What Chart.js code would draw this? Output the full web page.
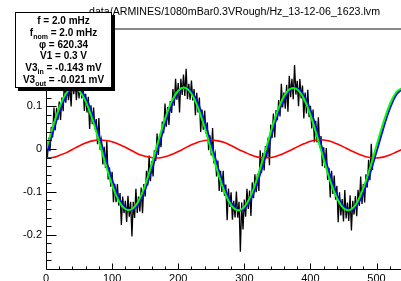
<!DOCTYPE html>
<html>
<head>
<meta charset="utf-8">
<script src="https://cdn.jsdelivr.net/npm/chart.js@4.4.1/dist/chart.umd.min.js"></script>
<style>
  html, body { margin: 0; padding: 0; background: #fff; overflow: hidden; }
  #page { position: relative; width: 401px; height: 281px; overflow: hidden; }
  #plot { position: absolute; left: 0; top: 0; }
  #title {
    position: absolute; left: 89px; top: 5px; white-space: nowrap; color: #000;
    font: 10.65px "Liberation Sans", Arial, sans-serif; line-height: 13px;
  }
  #stats {
    position: absolute; left: 15px; top: 12px; width: 97px; height: 76px;
    box-sizing: border-box; border: 1px solid #000; box-shadow: 3px 3px 0 #000;
    background: #fff; color: #000; text-align: center;
    font: bold 10px "Liberation Sans", Arial, sans-serif; line-height: 11.8px; padding-top: 2px;
  }
  #stats sub { font-size: 7px; line-height: 0; vertical-align: -3px; }
</style>
</head>
<body>
<div id="page">
  <canvas id="plot" width="401" height="292"></canvas>
  <div id="title">data/ARMINES/1080mBar0.3VRough/Hz_13-12-06_1623.lvm</div>
  <div id="stats">
    <div>f = 2.0 mHz</div>
    <div>f<sub>nom</sub> = 2.0 mHz</div>
    <div>&phi; = 620.34</div>
    <div>V1 = 0.3 V</div>
    <div>V3<sub>in</sub> = -0.143 mV</div>
    <div>V3<sub>out</sub> = -0.021 mV</div>
  </div>
</div>
<script>
// axis ranges
const xMin = 0, xMax = 537;
const yMin = -0.28, yMax = 0.28;

// raw signal, one sample every 2 units starting at 0
const rawStep = 2;
const rawSignal = [
  0.007,-0.022,0.026,-0.005,0.052,0.027,0.097,0.044,0.096,0.068,
  0.111,0.068,0.120,0.088,0.171,0.108,0.153,0.114,0.149,0.099,
  0.168,0.128,0.162,0.114,0.158,0.118,0.174,0.118,0.152,0.089,
  0.129,0.085,0.122,0.047,0.102,0.058,0.097,0.046,0.070,0.011,
  0.072,-0.002,0.019,-0.036,0.005,-0.044,0.018,-0.071,-0.043,-0.088,
  -0.053,-0.124,-0.081,-0.124,-0.082,-0.132,-0.103,-0.177,-0.111,-0.150,
  -0.121,-0.170,-0.109,-0.158,-0.123,-0.204,-0.123,-0.161,-0.093,-0.149,
  -0.111,-0.146,-0.090,-0.150,-0.082,-0.111,-0.051,-0.085,-0.015,-0.075,
  -0.028,-0.064,-0.003,-0.028,0.036,-0.014,0.034,0.004,0.064,0.037,
  0.106,0.052,0.098,0.056,0.112,0.084,0.140,0.101,0.164,0.115,
  0.154,0.085,0.164,0.126,0.174,0.124,0.187,0.116,0.152,0.115,
  0.160,0.113,0.140,0.079,0.131,0.085,0.120,0.040,0.092,0.045,
  0.090,0.036,0.062,-0.003,0.032,-0.015,0.049,-0.034,-0.013,-0.064,
  -0.027,-0.098,-0.051,-0.100,-0.051,-0.109,-0.083,-0.166,-0.092,-0.135,
  -0.101,-0.165,-0.121,-0.160,-0.099,-0.160,-0.123,-0.240,-0.125,-0.188,
  -0.118,-0.158,-0.093,-0.140,-0.097,-0.156,-0.078,-0.115,-0.059,-0.101,
  -0.058,-0.098,-0.003,-0.056,-0.009,-0.050,0.007,-0.021,0.027,-0.038,
  0.057,0.026,0.083,0.027,0.091,0.067,0.114,0.076,0.152,0.097,
  0.132,0.094,0.150,0.087,0.171,0.121,0.164,0.116,0.196,0.127,
  0.159,0.100,0.163,0.118,0.148,0.071,0.132,0.083,0.138,0.074,
  0.101,0.048,0.092,0.016,0.066,0.015,0.074,0.003,0.030,-0.040,
  0.004,-0.044,0.002,-0.072,-0.044,-0.113,-0.051,-0.105,-0.062,-0.118,
  -0.086,-0.171,-0.101,-0.155,-0.117,-0.169,-0.096,-0.162,-0.125,-0.168,
  -0.108,-0.190,-0.121,-0.153,-0.110,-0.157,-0.095,-0.133,-0.064,-0.128,
  -0.082,-0.125,-0.059,-0.090,-0.025,-0.073,0.012,-0.049
];

// fitted curves, sampled every 10 units
const fitTimes = [0,10,20,30,40,50,60,70,80,90,100,110,120,130,140,150,160,170,180,190,
  200,210,220,230,240,250,260,270,280,290,300,310,320,330,340,350,360,370,380,390,
  400,410,420,430,440,450,460,470,480,490,500,510,520,530,540];
const fitIn = [
  -0.016,0.037,0.086,0.122,0.141,0.140,0.119,0.081,0.032,-0.022,
  -0.072,-0.113,-0.137,-0.142,-0.127,-0.094,-0.048,0.005,0.058,0.102,
  0.132,0.143,0.134,0.106,0.063,0.011,-0.043,-0.090,-0.125,-0.142,
  -0.139,-0.116,-0.077,-0.027,0.027,0.077,0.116,0.139,0.142,0.125,
  0.090,0.043,-0.011,-0.063,-0.106,-0.134,-0.143,-0.132,-0.102,-0.058,
  -0.006,0.047,0.094,0.127,0.142
];
const fitTotal = [
  -0.003,0.050,0.096,0.129,0.143,0.136,0.111,0.070,0.019,-0.035,
  -0.084,-0.121,-0.140,-0.140,-0.121,-0.084,-0.035,0.019,0.070,0.111,
  0.136,0.143,0.129,0.096,0.050,-0.003,-0.055,-0.100,-0.131,-0.143,
  -0.135,-0.108,-0.065,-0.014,0.040,0.088,0.123,0.141,0.139,0.118,
  0.079,0.030,-0.024,-0.075,-0.114,-0.138,-0.142,-0.126,-0.091,-0.045,
  0.008,0.060,0.104,0.133,0.143
];
const fitOut = [
  -0.021,-0.020,-0.015,-0.009,-0.001,0.007,0.014,0.019,0.021,0.020,
  0.017,0.011,0.004,-0.004,-0.012,-0.017,-0.020,-0.021,-0.018,-0.013,
  -0.006,0.002,0.010,0.016,0.020,0.021,0.019,0.015,0.008,0.000,
  -0.007,-0.014,-0.019,-0.021,-0.020,-0.016,-0.010,-0.003,0.005,0.012,
  0.018,0.021,0.021,0.018,0.012,0.005,-0.003,-0.010,-0.016,-0.020,
  -0.021,-0.019,-0.014,-0.007,0.000
];

const toPoints = (xs, ys) => ys.map((v, i) => ({ x: xs[i], y: v }));
const rawPoints = rawSignal.map((v, i) => ({ x: i * rawStep, y: v }));

const labelFont = { family: '"Liberation Sans", Arial, sans-serif', size: 11 };

// ROOT style frame: axis lines, ticks pointing inside
const frameAxes = {
  id: 'frameAxes',
  afterDraw(chart) {
    const { ctx, chartArea: a, scales: { x, y } } = chart;
    ctx.save();
    ctx.strokeStyle = '#8a8a8a';
    ctx.lineWidth = 2;
    ctx.beginPath();
    ctx.moveTo(a.left, a.top);
    ctx.lineTo(a.right, a.top);
    ctx.stroke();

    ctx.strokeStyle = '#000';
    ctx.lineWidth = 1;
    ctx.beginPath();
    const lx = Math.round(a.left) + 0.5;
    const by = Math.round(a.bottom) + 0.5;
    ctx.moveTo(lx, a.top);
    ctx.lineTo(lx, by);
    ctx.lineTo(a.right, by);
    for (let i = -14; i <= 14; i++) {
      const py = Math.round(y.getPixelForValue(i * 0.02)) + 0.5;
      const len = i % 5 === 0 ? 10 : 5;
      ctx.moveTo(lx, py);
      ctx.lineTo(lx + len, py);
    }
    for (let i = 0; i * 20 <= xMax; i++) {
      const px = Math.round(x.getPixelForValue(i * 20)) + 0.5;
      const len = i % 5 === 0 ? 6 : 3;
      ctx.moveTo(px, by);
      ctx.lineTo(px, by - len);
    }
    ctx.stroke();
    ctx.restore();
  }
};

new Chart(document.getElementById('plot'), {
  type: 'line',
  data: {
    datasets: [
      { data: toPoints(fitTimes, fitTotal), borderColor: '#00ff00', borderWidth: 2, tension: 0.4, order: 0 },
      { data: toPoints(fitTimes, fitIn), borderColor: '#0000ff', borderWidth: 2, tension: 0.4, order: 1 },
      { data: toPoints(fitTimes, fitOut), borderColor: '#ff0000', borderWidth: 1.6, tension: 0.4, order: 2 },
      { data: rawPoints, borderColor: '#000000', borderWidth: 1.3, tension: 0, order: 3 }
    ]
  },
  options: {
    responsive: false,
    animation: false,
    devicePixelRatio: 1,
    elements: { point: { radius: 0 } },
    layout: { padding: { top: 29, left: 0, right: 0, bottom: 0 } },
    plugins: {
      legend: { display: false },
      tooltip: { enabled: false },
      title: { display: false }
    },
    scales: {
      x: {
        type: 'linear',
        min: xMin,
        max: xMax,
        grid: { display: false, drawTicks: false },
        border: { display: false },
        afterFit: (s) => { s.height = 23; },
        ticks: {
          stepSize: 100,
          includeBounds: false,
          autoSkip: false,
          maxRotation: 0,
          padding: 3,
          color: '#000',
          font: labelFont
        }
      },
      y: {
        type: 'linear',
        min: yMin,
        max: yMax,
        grid: { display: false, drawTicks: false },
        border: { display: false },
        afterFit: (s) => { s.width = 46; },
        ticks: {
          stepSize: 0.1,
          includeBounds: false,
          padding: 4,
          color: '#000',
          font: labelFont,
          callback: (v) => Math.abs(v) < 1e-9 ? '0' : String(Math.round(v * 10) / 10)
        }
      }
    }
  },
  plugins: [frameAxes]
});
</script>
</body>
</html>
